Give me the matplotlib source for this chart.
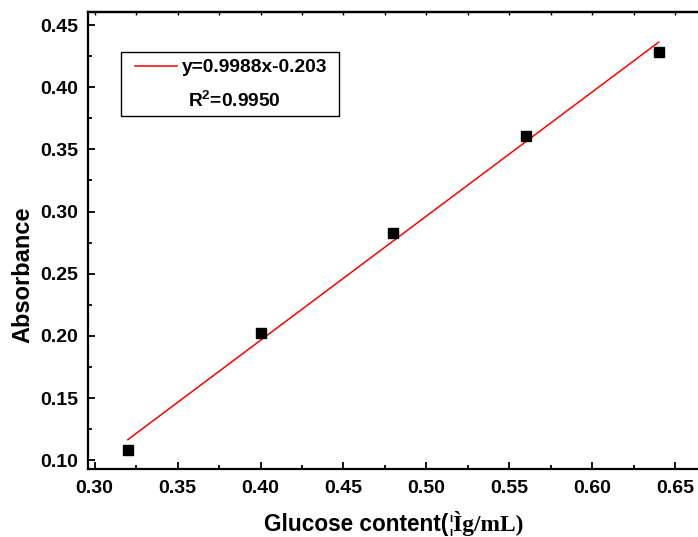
import matplotlib
matplotlib.use('Agg')
import matplotlib.pyplot as plt
from matplotlib.lines import Line2D
from matplotlib.patches import Rectangle
from matplotlib.ticker import MultipleLocator
import numpy as np

# data
glucose = [0.32, 0.40, 0.48, 0.56, 0.64]
absorbance = [0.108, 0.202, 0.283, 0.361, 0.428]
slope = 0.9988
intercept = -0.203
r_squared = 0.9950

plt.rcParams['font.family'] = ['Liberation Sans', 'DejaVu Sans']
plt.rcParams['font.weight'] = 'bold'
plt.rcParams['mathtext.fontset'] = 'custom'
plt.rcParams['mathtext.rm'] = 'Liberation Sans:bold'
plt.rcParams['mathtext.bf'] = 'Liberation Sans:bold'
plt.rcParams['mathtext.it'] = 'Liberation Sans:bold'

W, H = 698, 537
fig = plt.figure(figsize=(W/100, H/100), dpi=100)
ax = fig.add_axes([88/W, 68/H, 637/W, 457/H])

fit_x = np.array([glucose[0], glucose[-1]])
fit_y = slope*fit_x + intercept
ax.plot(fit_x, fit_y, color='red', lw=1.1)
ax.plot(glucose, absorbance, 's', color='black', ms=7, zorder=3)

ax.set_xlim(0.296, 0.68)
ax.set_ylim(0.093, 0.4605)
ax.xaxis.set_major_locator(MultipleLocator(0.05))
ax.xaxis.set_minor_locator(MultipleLocator(0.025))
ax.yaxis.set_major_locator(MultipleLocator(0.05))
ax.yaxis.set_minor_locator(MultipleLocator(0.025))
ax.xaxis.set_major_formatter(lambda v, p: f'{v:.2f}')
ax.yaxis.set_major_formatter(lambda v, p: f'{v:.2f}')

for s in ['left', 'bottom', 'top']:
    ax.spines[s].set_linewidth(1.6)
ax.spines['right'].set_visible(False)

ax.tick_params(which='major', direction='in', length=5, width=1.3, labelsize=14)
ax.tick_params(which='minor', direction='in', length=3, width=1.3)
ax.tick_params(axis='x', which='major', pad=8)
ax.tick_params(axis='y', which='major', pad=7)

top = ax.secondary_xaxis('top')
top.xaxis.set_major_locator(MultipleLocator(0.05))
top.xaxis.set_minor_locator(MultipleLocator(0.025))
top.tick_params(which='both', direction='in', length=2, width=1, labeltop=False)
top.spines['top'].set_linewidth(1.6)

# legend box, drawn by hand in pixel positions (origin top-left)
def px(x, y):
    return x/W, 1 - y/H

x0, y0 = px(121, 116)
x1, y1 = px(339, 52)
fig.patches.append(Rectangle((x0, y0), x1 - x0, y1 - y0, transform=fig.transFigure,
                             facecolor='white', edgecolor='black', lw=1.0, zorder=5))
fig.lines.append(Line2D([px(135, 66)[0], px(177, 66)[0]], [px(135, 66)[1]]*2,
                        transform=fig.transFigure, color='red', lw=1.1, zorder=6))
fig.text(*px(182, 67), f'y={slope}x{intercept}', fontsize=13.8, va='center', zorder=6)
fig.text(*px(188, 101), f'R$^2$={r_squared:.4f}', fontsize=13.8, va='center', zorder=6)

fig.text(23/W, 1 - 275/H, 'Absorbance', rotation=90, ha='center', va='center',
         fontsize=17, fontweight='bold')

# x label: sans part plus the garbled unit in serif
t1 = fig.text(0, 0.012, 'Glucose content(', fontsize=16.3, fontweight='bold', va='baseline')
t2 = fig.text(0, 0.012, '¦Ìg/mL)', fontsize=16.8, fontweight='bold', va='baseline',
              family='Liberation Serif')
fig.canvas.draw()
r = fig.canvas.get_renderer()
w1 = t1.get_window_extent(r).width
w2 = t2.get_window_extent(r).width
xs = 394 - (w1 + w2)/2
t1.set_x(xs/W)
t2.set_x((xs + w1)/W)

fig.savefig('out.png', dpi=100)
